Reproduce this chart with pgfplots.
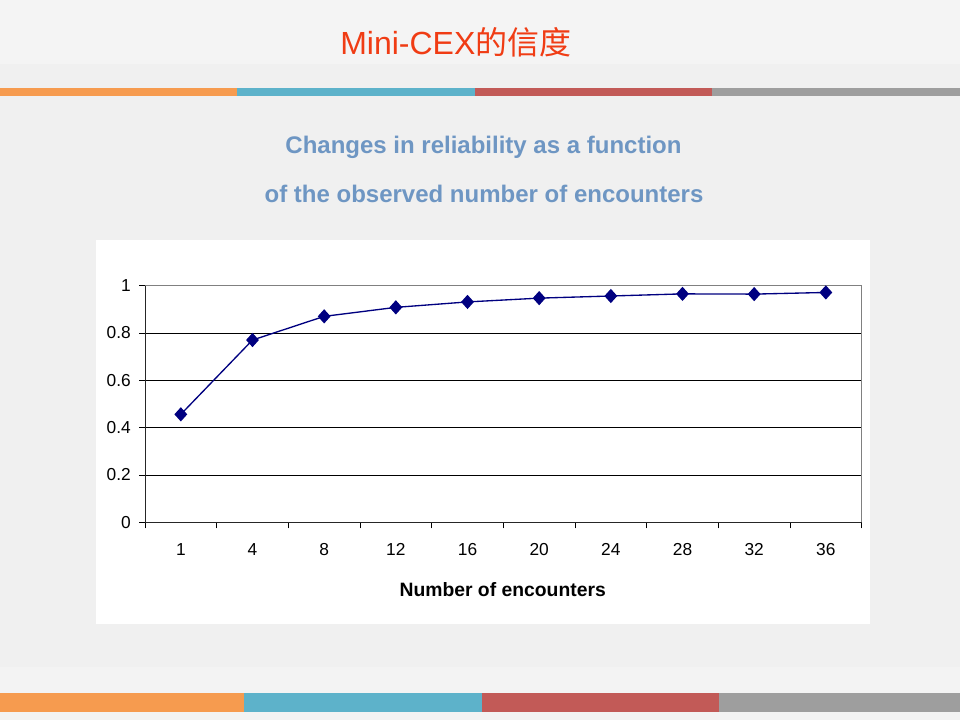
\documentclass[border=0pt]{standalone}
\usepackage{pgfplots}
\pgfplotsset{compat=1.18}
\usepackage{fontspec}
\setmainfont{Liberation Sans}
\newfontfamily\cjk{Noto Sans CJK SC}
\definecolor{bgmain}{HTML}{F0F0F0}
\definecolor{bgtop}{HTML}{F4F4F4}
\definecolor{bgbot}{HTML}{F3F3F3}
\definecolor{sorange}{HTML}{F69B4F}
\definecolor{sblue}{HTML}{5DB2CA}
\definecolor{sred}{HTML}{C25A57}
\definecolor{sgray}{HTML}{9E9E9E}
\definecolor{titlered}{HTML}{F03C14}
\definecolor{subblue}{HTML}{6E96C3}
\definecolor{navyline}{HTML}{000080}
\begin{document}
\begin{tikzpicture}
% background
\fill[bgmain] (0,0) rectangle (720pt,540pt);
\fill[bgtop] (0,492pt) rectangle (720pt,540pt);
\fill[bgbot] (0,0) rectangle (720pt,39.75pt);
% top stripes
\fill[sorange] (0,468pt) rectangle (177.75pt,474pt);
\fill[sblue] (177.75pt,468pt) rectangle (356.25pt,474pt);
\fill[sred] (356.25pt,468pt) rectangle (534pt,474pt);
\fill[sgray] (534pt,468pt) rectangle (720pt,474pt);
% bottom stripes
\fill[sorange] (0,6pt) rectangle (183pt,20.25pt);
\fill[sblue] (183pt,6pt) rectangle (361.5pt,20.25pt);
\fill[sred] (361.5pt,6pt) rectangle (539.25pt,20.25pt);
\fill[sgray] (539.25pt,6pt) rectangle (720pt,20.25pt);
% white chart area
\fill[white] (72pt,72pt) rectangle (652.5pt,360pt);
% titles
\node[anchor=base west, inner sep=0pt, text=titlered, font=\fontsize{24pt}{28pt}\selectfont] at (255pt,498.75pt) {Mini-CEX{\cjk 的信度}};
\node[anchor=base, inner sep=0pt, text=subblue, font=\fontsize{18pt}{22pt}\selectfont\bfseries] at (362.6pt,425pt) {Changes in reliability as a function};
\node[anchor=base, inner sep=0pt, text=subblue, font=\fontsize{18pt}{22pt}\selectfont\bfseries] at (363pt,388pt) {of the observed number of encounters};
\node[anchor=base, inner sep=0pt, font=\fontsize{14.5pt}{17pt}\selectfont\bfseries] at (377pt,92.5pt) {Number of encounters};
\begin{axis}[
  at={(108.75pt,148.3pt)}, anchor=south west,
  scale only axis, width=537.5pt, height=177.5pt,
  xmin=0.5, xmax=10.5, ymin=0, ymax=1,
  xtick={0.5,1.5,2.5,3.5,4.5,5.5,6.5,7.5,8.5,9.5,10.5},
  x tick label as interval,
  xticklabels={1,4,8,12,16,20,24,28,32,36},
  ytick={0,0.2,0.4,0.6,0.8,1},
  yticklabels={0,0.2,0.4,0.6,0.8,1},
  /pgf/number format/assume math mode=true,
  ymajorgrids,
  grid style={black, line width=0.6pt},
  axis line style={draw=gray, line width=0.75pt},
  tick align=outside, xtick pos=bottom, ytick pos=left,
  major tick length=4.5pt,
  tick style={black, line width=0.6pt},
  ticklabel style={font=\fontsize{13pt}{15pt}\selectfont},
  xticklabel style={inner sep=0pt, anchor=north, yshift=-11.5pt},
  yticklabel style={inner sep=0pt, anchor=east, xshift=-6pt},
  clip=false,
]
\addplot[navyline, line width=1pt, mark=diamond*, mark size=4.6pt, mark options={fill=navyline, xscale=1.2}]
  coordinates {(1,0.456) (2,0.770) (3,0.870) (4,0.908) (5,0.931) (6,0.947) (7,0.956) (8,0.965) (9,0.964) (10,0.971)};
\draw[black!85, line width=0.75pt] (rel axis cs:0,1) -- (rel axis cs:0,0) -- (rel axis cs:1,0);
\end{axis}
\end{tikzpicture}
\end{document}
